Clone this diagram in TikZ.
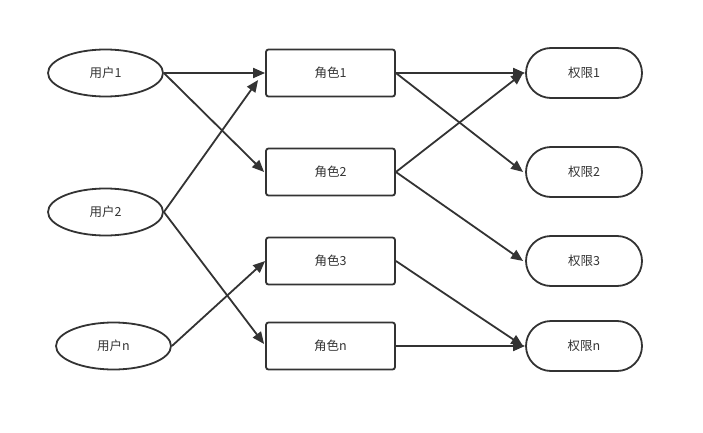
\documentclass[tikz,border=0pt]{standalone}
\usepackage{fontspec}
\setmainfont{Noto Sans CJK SC}
\usepackage{xcolor}
\usetikzlibrary{arrows.meta,shapes.geometric,shapes.misc}
\definecolor{linegray}{HTML}{333333}
\tikzset{
	user/.style={
			draw=linegray, ellipse, line width=1.8pt,
			minimum width=115pt, minimum height=47pt, inner sep=0pt,
			text=linegray, font=\fontsize{12.5}{14}\selectfont
		},
	role/.style={
			draw=linegray, rectangle, rounded corners=2.5pt, line width=1.8pt,
			minimum width=129pt, minimum height=47pt, inner sep=0pt,
			text=linegray, font=\fontsize{12.5}{14}\selectfont
		},
	perm/.style={
			draw=linegray, rounded rectangle, line width=1.8pt,
			minimum width=116pt, minimum height=50pt, inner sep=0pt,
			text=linegray, font=\fontsize{12.5}{14}\selectfont
		},
	link/.style={
			draw=linegray, line width=1.8pt,
			-{Triangle[length=12pt,width=10pt]}
		}
}

\begin{document}
\begin{tikzpicture}[x=1pt,y=-1pt]
				\useasboundingbox (0,0) rectangle (703,433);
				\node [user] (yh1) at (105.5, 73) {用户1};
				\node [user] (yh2) at (105.5,212) {用户2};
				\node [user] (yhn) at (113.5,346) {用户n};
				\node [role] (js1) at (330.5, 73) {角色1};
				\node [role] (js2) at (330.5,172) {角色2};
				\node [role] (js3) at (330.5,261) {角色3};
				\node [role] (jsn) at (330.5,346) {角色n};
				\node [perm] (qx1) at (584, 73) {权限1};
				\node [perm] (qx2) at (584,172) {权限2};
				\node [perm] (qx3) at (584,261) {权限3};
				\node [perm] (qxn) at (584,346) {权限n};
				\draw [link] (yh1.east) to (js1.west);
				\draw [link] (yh1.east) to ([xshift=-1pt]js2.west);
				\draw [link] (yh2.east) to ([xshift=-7pt,yshift=-7pt]js1.west);
				\draw [link] (yh2.east) to ([xshift=-1pt,yshift=2pt]jsn.west);
				\draw [link] (yhn.east) to (js3.west);
				\draw [link] (js1.east) to (qx1.west);
				\draw [link] (js1.east) to ([xshift=-2pt]qx2.west);
				\draw [link] (js2.east) to ([xshift=-2pt]qx1.west);
				\draw [link] (js2.east) to ([xshift=-2pt]qx3.west);
				\draw [link] (js3.east) to ([xshift=-2pt]qxn.west);
				\draw [link] (jsn.east) to (qxn.west);
			\end{tikzpicture}
\end{document}
